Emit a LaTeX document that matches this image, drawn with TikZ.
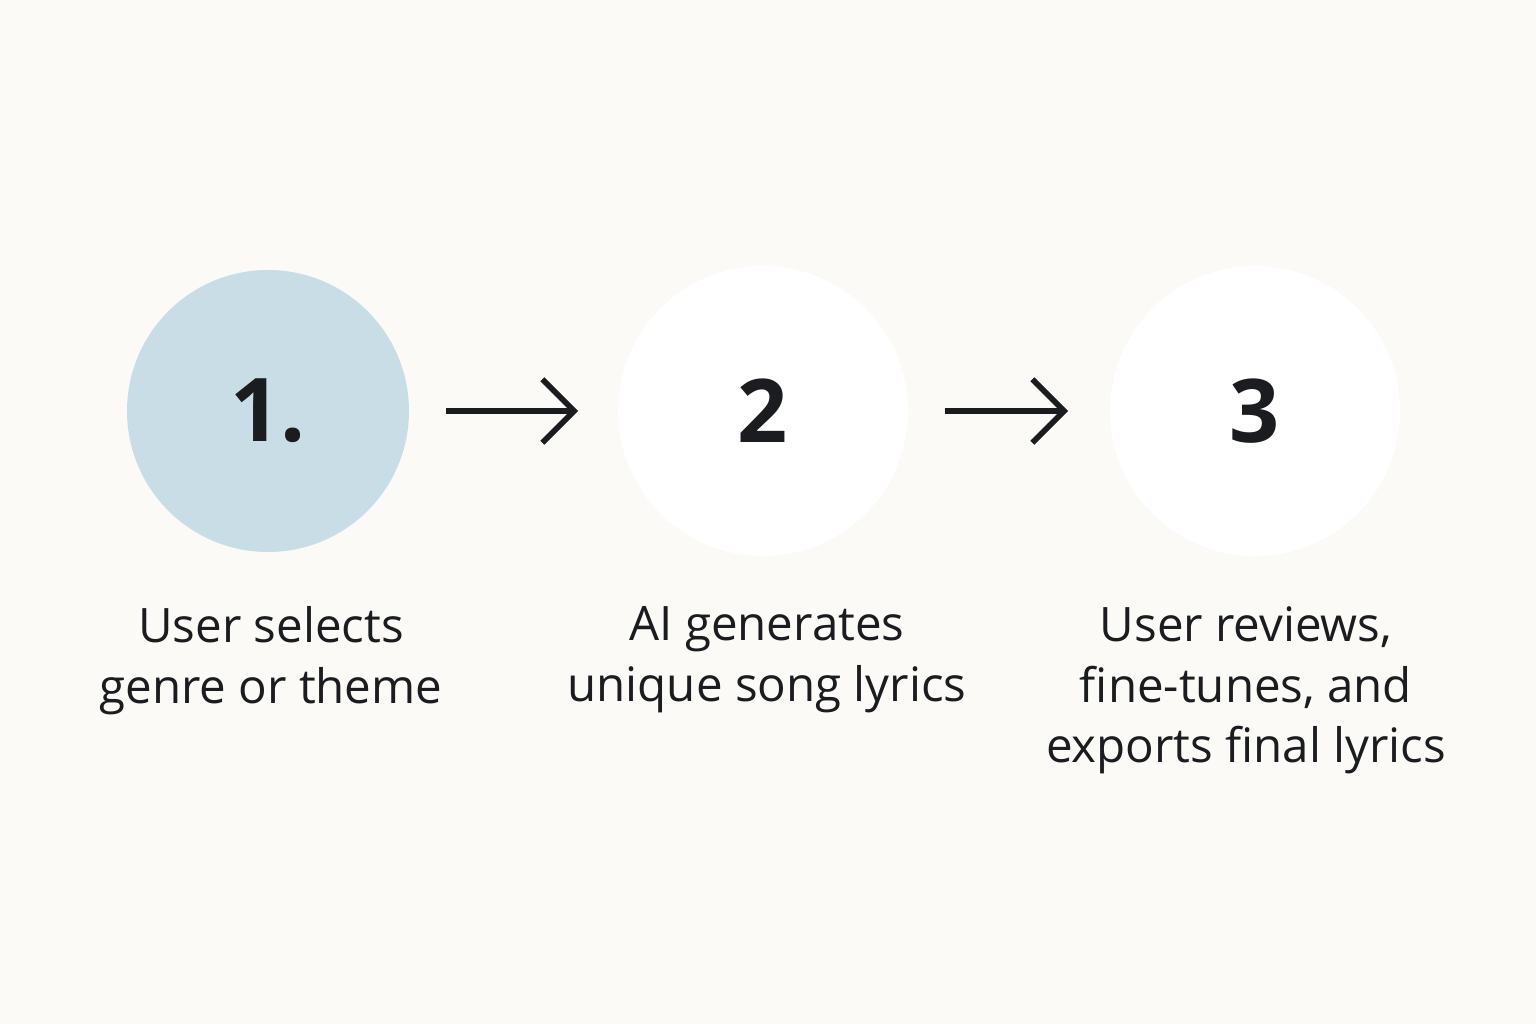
\documentclass[tikz,border=0pt]{standalone}
\usepackage{fontspec}
\setmainfont{Open Sans}
\usetikzlibrary{arrows.meta}
\definecolor{bg}{HTML}{FBFAF7}
\definecolor{c1}{HTML}{C9DDE6}
\definecolor{ink}{HTML}{1A1C1F}
\begin{document}
\begin{tikzpicture}[x=0.01cm,y=-0.01cm,
  stepcircle/.style={circle,minimum size=#1,inner sep=0,text=ink,font=\fontsize{25}{30}\selectfont\bfseries},
  lbl/.style={align=center,text=ink,font=\fontsize{13.5}{17.3}\selectfont},
  arr/.style={draw=ink,line width=1.6pt,-{Straight Barb[length=9pt,width=18pt,line width=1.6pt]}}]
\fill[bg] (0,0) rectangle (1536,1024);
\node[stepcircle=282*0.01cm,fill=c1] (s1) at (268,411) {1.};
\node[stepcircle=290*0.01cm,fill=white] (s2) at (763,411) {2};
\node[stepcircle=290*0.01cm,fill=white] (s3) at (1255,411) {3};
\coordinate (a1s) at (446,411); \coordinate (a1e) at (578,411);
\coordinate (a2s) at (945,411); \coordinate (a2e) at (1068,411);
\draw[arr] (a1s) -- (a1e);
\draw[arr] (a2s) -- (a2e);
\node[lbl,anchor=north] (l1) at (271,594) {User selects\\genre or theme};
\node[lbl,anchor=north] (l2) at (767,594) {AI generates\\unique song lyrics};
\node[lbl,anchor=north] (l3) at (1246,594) {User reviews,\\fine-tunes, and\\exports final lyrics};
\end{tikzpicture}
\end{document}
